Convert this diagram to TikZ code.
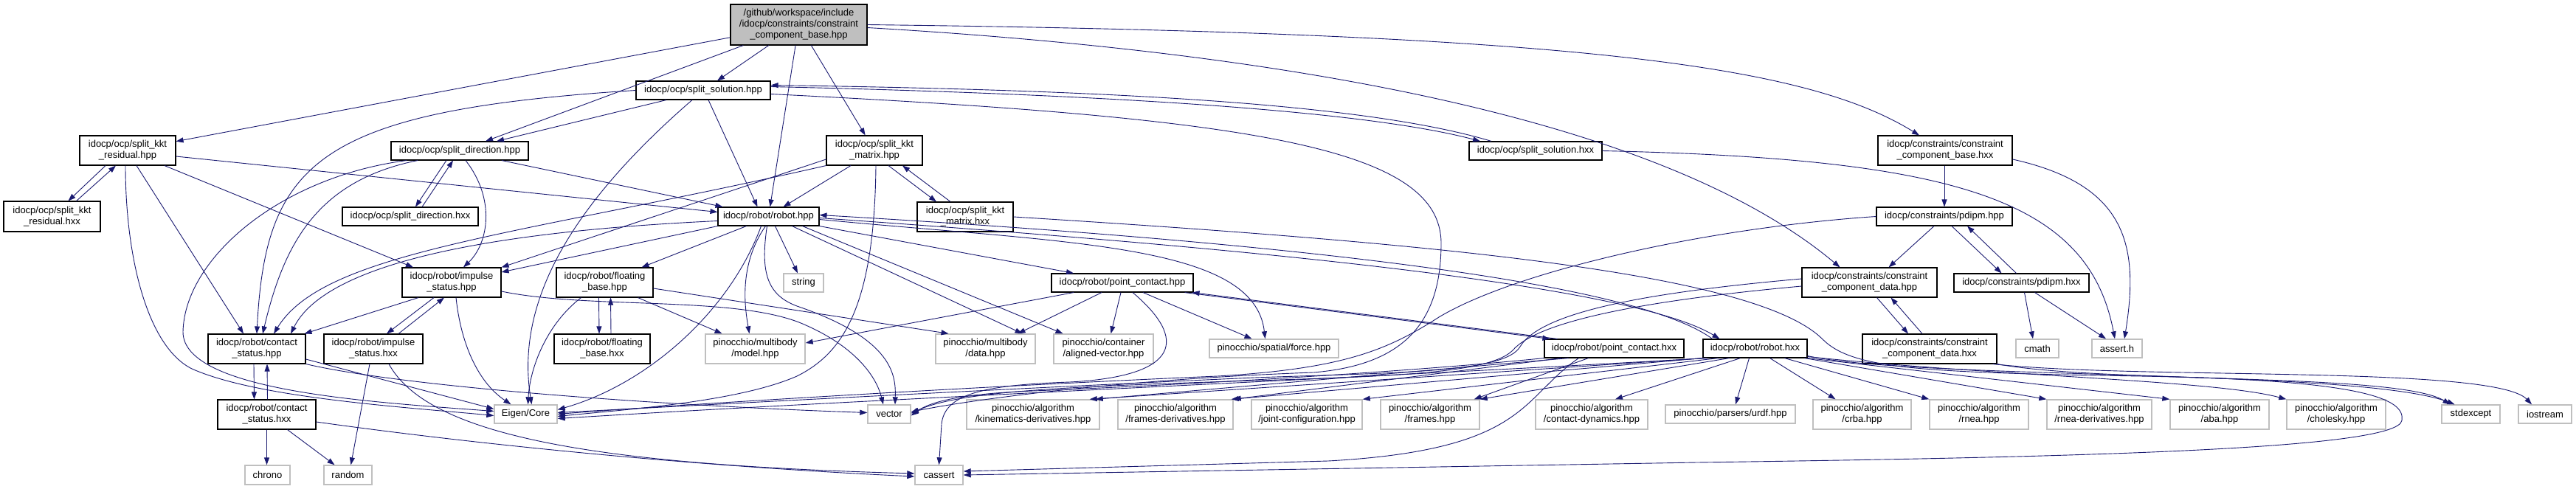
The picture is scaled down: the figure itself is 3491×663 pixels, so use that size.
\documentclass[tikz,border=0pt]{standalone}
\usepackage{fontspec}
\setmainfont{Liberation Sans}
\usepackage{tikz}
\usetikzlibrary{arrows.meta}
\definecolor{edgeblue}{HTML}{191970}
\definecolor{extgray}{HTML}{BFBFBF}
\newcommand{\gfont}{\fontsize{13}{15}\selectfont}

\begin{document}
\begin{tikzpicture}[x=1pt, y=-1pt,
  file/.style={draw=black, line width=1.1pt, fill=white,
    align=center, inner sep=0pt, font=\gfont},
  ext/.style={file, draw=extgray, line width=1.4pt},
  sz/.style 2 args={minimum width=#1pt, minimum height=#2pt},
  dep/.style={-{Triangle[length=10pt,width=7pt]}, draw=edgeblue,
    line width=0.9pt}]

\useasboundingbox (0,0) rectangle (3491,663);

% Top rows — idocp headers
\node[file, sz={185}{55}, fill=extgray] (root) at (1082.5,33.5)
  {/github/workspace/include\\/idocp/constraints/constraint\\\_component\_base.hpp};
\node[file, sz={182}{25}] (sol) at (953,122.5) {idocp/ocp/split\_solution.hpp};
\node[file, sz={130}{40}] (kktres) at (173,204) {idocp/ocp/split\_kkt\\\_residual.hpp};
\node[file, sz={186}{25}] (dir) at (623,204.5) {idocp/ocp/split\_direction.hpp};
\node[file, sz={130}{40}] (kktmat) at (1185,204) {idocp/ocp/split\_kkt\\\_matrix.hpp};
\node[file, sz={180}{25}] (solx) at (2081,204.5) {idocp/ocp/split\_solution.hxx};
\node[file, sz={182}{40}] (basex) at (2636,204) {idocp/constraints/constraint\\\_component\_base.hxx};
\node[file, sz={131}{41}] (kktresx) at (70.5,293.5) {idocp/ocp/split\_kkt\\\_residual.hxx};
\node[file, sz={184}{25}] (dirx) at (556,293.5) {idocp/ocp/split\_direction.hxx};
\node[file, sz={137}{25}] (robot) at (1041.5,293.5) {idocp/robot/robot.hpp};
\node[file, sz={130}{40}] (kktmatx) at (1308,294) {idocp/ocp/split\_kkt\\\_matrix.hxx};
\node[file, sz={184}{25}] (pdipm) at (2635,293.5) {idocp/constraints/pdipm.hpp};

% Middle rows
\node[file, sz={134}{40}] (impulse) at (612,383) {idocp/robot/impulse\\\_status.hpp};
\node[file, sz={131}{40}] (floating) at (819.5,383) {idocp/robot/floating\\\_base.hpp};
\node[ext, sz={54}{25}] (str) at (1089,383.5) {string};
\node[file, sz={192}{25}] (pc) at (1521,383.5) {idocp/robot/point\_contact.hpp};
\node[file, sz={183}{40}] (cdata) at (2533.5,383) {idocp/constraints/constraint\\\_component\_data.hpp};
\node[file, sz={183}{25}] (pdipmx) at (2739.5,383.5) {idocp/constraints/pdipm.hxx};
\node[file, sz={132}{40}] (contact) at (348,473) {idocp/robot/contact\\\_status.hpp};
\node[file, sz={134}{40}] (impulsex) at (506,473) {idocp/robot/impulse\\\_status.hxx};
\node[file, sz={130}{40}] (floatingx) at (816,473) {idocp/robot/floating\\\_base.hxx};
\node[ext, sz={135}{40}] (model) at (1023.5,473) {pinocchio/multibody\\/model.hpp};
\node[ext, sz={135}{40}] (data) at (1335.5,473) {pinocchio/multibody\\/data.hpp};
\node[ext, sz={135}{40}] (aligned) at (1495.5,473) {pinocchio/container\\/aligned-vector.hpp};
\node[ext, sz={175}{25}] (force) at (1726.5,472.5) {pinocchio/spatial/force.hpp};
\node[file, sz={189}{25}] (pcx) at (2187.5,472.5) {idocp/robot/point\_contact.hxx};
\node[file, sz={141}{25}] (robotx) at (2378.5,472.5) {idocp/robot/robot.hxx};
\node[file, sz={182}{40}] (cdatax) at (2615,473) {idocp/constraints/constraint\\\_component\_data.hxx};
\node[ext, sz={58}{25}] (cmath) at (2761,472.5) {cmath};
\node[ext, sz={68}{25}] (asserth) at (2869,472.5) {assert.h};

% Bottom rows
\node[file, sz={133}{40}] (contactx) at (361.5,562) {idocp/robot/contact\\\_status.hxx};
\node[ext, sz={85}{25}] (eigen) at (712.5,561.5) {Eigen/Core};
\node[ext, sz={58}{25}] (vector) at (1205,561.5) {vector};
\node[ext, sz={180}{40}] (kinder) at (1400,562) {pinocchio/algorithm\\/kinematics-derivatives.hpp};
\node[ext, sz={156}{40}] (framesder) at (1593,562) {pinocchio/algorithm\\/frames-derivatives.hpp};
\node[ext, sz={150}{40}] (jointconf) at (1771,562) {pinocchio/algorithm\\/joint-configuration.hpp};
\node[ext, sz={134}{40}] (frames) at (1938,562) {pinocchio/algorithm\\/frames.hpp};
\node[ext, sz={152}{40}] (contactdyn) at (2157,562) {pinocchio/algorithm\\/contact-dynamics.hpp};
\node[ext, sz={176}{25}] (urdf) at (2345,561.5) {pinocchio/parsers/urdf.hpp};
\node[ext, sz={133}{40}] (crba) at (2523.5,562) {pinocchio/algorithm\\/crba.hpp};
\node[ext, sz={134}{40}] (rnea) at (2682,562) {pinocchio/algorithm\\/rnea.hpp};
\node[ext, sz={142}{40}] (rneader) at (2845,562) {pinocchio/algorithm\\/rnea-derivatives.hpp};
\node[ext, sz={134}{40}] (aba) at (3008,562) {pinocchio/algorithm\\/aba.hpp};
\node[ext, sz={134}{40}] (cholesky) at (3166,562) {pinocchio/algorithm\\/cholesky.hpp};
\node[ext, sz={79}{25}] (stdexcept) at (3348.5,561.5) {stdexcept};
\node[ext, sz={72}{25}] (iostream) at (3449,561.5) {iostream};
\node[ext, sz={61}{26}] (chrono) at (362.5,644) {chrono};
\node[ext, sz={65}{26}] (random) at (471.5,644) {random};
\node[ext, sz={65}{26}] (cassert) at (1272.5,644) {cassert};

% Root includes
\draw[dep] (root) -- (kktres);
\draw[dep] (root) -- (dir);
\draw[dep] (root) -- (sol);
\draw[dep] (root) -- (robot);
\draw[dep] (root) -- (kktmat);
\draw[dep] (root.east) .. controls (2150,45) and (2450,90) .. ([xshift=-35pt]basex.north);
\draw[dep] ([yshift=-4pt]root.east) .. controls (1900,80) and (2300,200) .. ([xshift=-40pt]cdata.north);

% split_solution
\draw[dep] ([xshift=-50pt]sol.south) -- ([xshift=50pt]dir.north);
\draw[dep] ([xshift=7pt]sol.south) -- ([xshift=-15pt]robot.north);
\draw[dep] ([xshift=-15pt]sol.south) .. controls (760,290) and (700,420) .. ([xshift=8pt]eigen.north);
\draw[dep] (sol.west) .. controls (430,150) and (360,220) .. (contact.north);
\draw[dep] ([yshift=5pt]sol.east) .. controls (1500,128) and (1850,150) .. ([xshift=-75pt]solx.north);
\draw[dep] ([xshift=-60pt]solx.north) .. controls (1850,140) and (1500,122) .. ([yshift=7pt]sol.east);
\draw[dep] ([yshift=-5pt]sol.east) .. controls (1700,160) and (1953,200) .. (1953,330)
  .. controls (1953,440) and (1900,495) .. (1780,505)
  .. controls (1500,515) and (1300,545) .. ([yshift=3pt]vector.east);
\draw[dep] (solx.east) .. controls (2650,215) and (2830,270) .. ([xshift=-3pt]asserth.north);

% split_direction
\draw[dep] ([xshift=-18pt]dir.south) -- ([xshift=7pt]dirx.north);
\draw[dep] ([xshift=16pt]dirx.north) -- ([xshift=-9pt]dir.south);
\draw[dep] ([xshift=57pt]dir.south) -- ([xshift=-62pt]robot.north);
\draw[dep] ([xshift=8pt]dir.south) .. controls (672,270) and (662,330) .. ([xshift=16pt]impulse.north);
\draw[dep] ([xshift=-57pt]dir.south) .. controls (430,245) and (385,330) .. ([xshift=8pt]contact.north);
\draw[dep] ([xshift=-72pt]dir.south) .. controls (380,240) and (250,350) .. (248,450)
  .. controls (248,530) and (500,545) .. ([yshift=4pt]eigen.west);

% split_kkt_residual
\draw[dep] ([xshift=-30pt]kktres.south) -- ([xshift=22pt]kktresx.north);
\draw[dep] ([xshift=33pt]kktresx.north) -- ([xshift=-16pt]kktres.south);
\draw[dep] ([yshift=-8pt]kktres.east) -- ([yshift=6pt]robot.west);
\draw[dep] ([xshift=50pt]kktres.south) -- ([xshift=-52pt]impulse.north);
\draw[dep] ([xshift=12pt]kktres.south) -- ([xshift=-18pt]contact.north);
\draw[dep] ([xshift=-3pt]kktres.south) .. controls (170,350) and (200,470) .. (260,500)
  .. controls (350,540) and (550,552) .. ([yshift=-2pt]eigen.west);

% split_kkt_matrix
\draw[dep] ([xshift=19pt]kktmat.south) -- ([xshift=-39pt]kktmatx.north);
\draw[dep] ([xshift=-20pt]kktmatx.north) -- ([xshift=38pt]kktmat.south);
\draw[dep] ([xshift=-32pt]kktmat.south) -- ([xshift=20pt]robot.north);
\draw[dep] ([yshift=-12pt]kktmat.west) -- (impulse.north east);
\draw[dep] (kktmat.south west) .. controls (700,320) and (440,340) .. ([xshift=23pt]contact.north);
\draw[dep] ([xshift=2pt]kktmat.south) .. controls (1185,420) and (1140,480) .. (1080,510)
  .. controls (1000,545) and (850,555) .. ([yshift=-3pt]eigen.east);
\draw[dep] (kktmatx.east) .. controls (1950,330) and (2380,370) .. (2470,460)
  .. controls (2510,500) and (2600,505) .. (2900,510)
  .. controls (3200,515) and (3260,540) .. (3255,570)
  .. controls (3250,610) and (2800,620) .. (2300,627) -- (cassert.east);

% robot.hpp
\draw[dep] (robot.south west) -- ([yshift=14pt]impulse.east);
\draw[dep] ([xshift=-30pt]robot.south) -- ([xshift=50pt]floating.north);
\draw[dep] ([xshift=-10pt]robot.south) .. controls (990,420) and (880,520) .. ([yshift=6pt]eigen.east);
\draw[dep] ([xshift=-4pt]robot.south) .. controls (1000,360) and (1010,420) .. ([xshift=-8pt]model.north);
\draw[dep] ([xshift=9pt]robot.south) -- ([xshift=-8pt]str.north);
\draw[dep] ([xshift=-2pt]robot.south) .. controls (1030,370) and (1040,400) .. (1080,415)
  .. controls (1212,460) and (1214,510) .. ([xshift=8pt]vector.north);
\draw[dep] ([xshift=32pt]robot.south) -- ([xshift=50pt]data.north);
\draw[dep] ([xshift=46pt]robot.south) -- ([xshift=-55pt]aligned.north);
\draw[dep] (robot.south east) -- ([xshift=-66pt]pc.north);
\draw[dep] ([yshift=-4pt]robot.east) .. controls (1450,330) and (1700,330) .. ([xshift=-12pt]force.north);
\draw[dep] ([yshift=-6pt]robot.west) .. controls (750,310) and (450,340) .. ([xshift=46pt]contact.north);
\draw[dep] ([yshift=-2pt]robot.east) .. controls (1600,330) and (2200,380) .. ([xshift=-48pt]robotx.north);
\draw[dep] ([xshift=-58pt]robotx.north) .. controls (2200,370) and (1600,320) .. ([yshift=2pt]robot.east);

% impulse_status
\draw[dep] ([xshift=-45pt]impulse.south) -- ([xshift=-2pt]contact.north east);
\draw[dep] ([xshift=-24pt]impulse.south) -- ([xshift=18pt]impulsex.north);
\draw[dep] ([xshift=34pt]impulsex.north) -- ([xshift=-10pt]impulse.south);
\draw[dep] ([xshift=6pt]impulse.south) .. controls (625,470) and (650,520) .. ([xshift=-20pt]eigen.north);
\draw[dep] ([yshift=-12pt]impulse.east) .. controls (800,420) and (1000,400) .. (1090,440)
  .. controls (1170,475) and (1190,520) .. ([xshift=-8pt]vector.north);
\draw[dep] ([xshift=-5pt]impulsex.south) -- ([xshift=4pt]random.north);
\draw[dep] ([xshift=21pt]impulsex.south) .. controls (580,590) and (800,630) .. ([yshift=2pt]cassert.west);

% floating_base
\draw[dep] ([xshift=-32pt]floating.south) .. controls (740,440) and (718,500) .. ([xshift=3pt]eigen.north);
\draw[dep] ([xshift=-8pt]floating.south) -- ([xshift=-4pt]floatingx.north);
\draw[dep] ([xshift=12pt]floatingx.north) -- ([xshift=8pt]floating.south);
\draw[dep] ([xshift=45pt]floating.south) -- ([xshift=-45pt]model.north);
\draw[dep] ([yshift=-8pt]floating.east) -- ([xshift=-50pt]data.north);

% contact_status
\draw[dep] ([xshift=-4pt]contact.south) -- ([xshift=-17pt]contactx.north);
\draw[dep] ([xshift=1pt]contactx.north) -- ([xshift=14pt]contact.south);
\draw[dep] ([yshift=-14pt]contact.east) -- ([yshift=7pt]eigen.west);
\draw[dep] (contact.south east) .. controls (550,525) and (900,550) .. ([yshift=2pt]vector.west);
\draw[dep] (contactx.south) -- ([xshift=-1pt]chrono.north);
\draw[dep] ([xshift=28pt]contactx.south) -- ([xshift=-18pt]random.north);
\draw[dep] ([yshift=-10pt]contactx.east) .. controls (700,610) and (1000,635) .. ([yshift=-2pt]cassert.west);

% point_contact
\draw[dep] ([xshift=-66pt]pc.south) -- ([yshift=8pt]model.east);
\draw[dep] ([xshift=-28pt]pc.south) -- ([xshift=44pt]data.north);
\draw[dep] ([xshift=-2pt]pc.south) -- ([xshift=10pt]aligned.north);
\draw[dep] ([xshift=28pt]pc.south) -- ([xshift=-30pt]force.north);
\draw[dep] ([xshift=14pt]pc.south) .. controls (1610,460) and (1600,510) .. (1450,518)
  .. controls (1330,522) and (1280,535) .. (1276,575) -- (cassert.north);
\draw[dep] ([xshift=-12pt]pc.south east) -- ([xshift=8pt]pcx.north west);
\draw[dep] ([xshift=18pt]pcx.north west) -- ([xshift=-2pt]pc.south east);
\draw[dep] ([xshift=-62pt]pcx.south) -- ([xshift=-6pt]kinder.north east);
\draw[dep] ([xshift=-72pt]pcx.south) -- (framesder.north east);
\draw[dep] ([xshift=-35pt]pcx.south) -- ([xshift=-8pt]frames.north east);
\draw[dep] ([xshift=-48pt]pcx.south) .. controls (2060,540) and (2070,610) .. (1800,625)
  -- ([yshift=5pt]cassert.east);
\draw[dep] (pcx.south west) .. controls (1900,505) and (1600,522) .. (1400,530)
  .. controls (1300,534) and (1260,545) .. ([yshift=-2pt]vector.east);

% robot.hxx
\draw[dep] ([xshift=-8pt]robotx.south) -- ([xshift=7pt]urdf.north);
\draw[dep] ([xshift=20pt]robotx.south) -- ([xshift=-36pt]crba.north);
\draw[dep] ([xshift=40pt]robotx.south) -- (rnea.north west);
\draw[dep] ([xshift=-4pt]robotx.south east) -- (rneader.north west);
\draw[dep] (robotx.south east) -- (aba.north west);
\draw[dep] ([yshift=2pt]robotx.south east) .. controls (2700,510) and (3000,515) .. (cholesky.north west);
\draw[dep] ([xshift=-20pt]robotx.south) -- ([xshift=32pt]contactdyn.north);
\draw[dep] ([xshift=-35pt]robotx.south) -- (frames.north east);
\draw[dep] ([xshift=-50pt]robotx.south) -- (jointconf.north east);
\draw[dep] (robotx.south west) -- ([xshift=-3pt]framesder.north east);
\draw[dep] ([xshift=3pt]robotx.south west) -- ([xshift=-14pt]kinder.north east);
\draw[dep] ([xshift=6pt]robotx.south west) .. controls (1800,515) and (1200,540) .. ([yshift=-6pt]eigen.east);
\draw[dep] ([yshift=3pt]robotx.south east) .. controls (2600,515) and (3200,500) .. ([xshift=-22pt]stdexcept.north);

% constraint_component_data
\draw[dep] ([xshift=10pt]cdata.south) -- ([xshift=-29pt]cdatax.north);
\draw[dep] ([xshift=-10pt]cdatax.north) -- ([xshift=29pt]cdata.south);
\draw[dep] ([yshift=5pt]cdata.west) .. controls (2250,395) and (2090,420) .. (2060,470)
  .. controls (2040,505) and (1900,505) .. (1700,512)
  .. controls (1300,530) and (900,552) .. ([yshift=2pt]eigen.east);
\draw[dep] ([yshift=-5pt]cdata.west) .. controls (2200,410) and (2080,440) .. (2050,475)
  .. controls (2020,505) and (1900,510) .. (1700,516)
  .. controls (1450,524) and (1300,530) .. ([yshift=1pt]vector.east);
\draw[dep] (cdatax.south east) .. controls (2850,520) and (3250,505) .. ([xshift=-28pt]stdexcept.north);
\draw[dep] ([xshift=-6pt]cdatax.south east) .. controls (2900,515) and (3380,495) .. ([xshift=-18pt]iostream.north);

% constraint_component_base.hxx and pdipm
\draw[dep] ([xshift=-1pt]basex.south) -- (pdipm.north);
\draw[dep] ([yshift=-12pt]basex.east) .. controls (2880,250) and (2900,330) .. ([xshift=10pt]asserth.north);
\draw[dep] ([xshift=-14pt]pdipm.south) -- ([xshift=26pt]cdata.north);
\draw[dep] ([xshift=10pt]pdipm.south) -- ([xshift=-27pt]pdipmx.north);
\draw[dep] ([xshift=-7pt]pdipmx.north) -- ([xshift=31pt]pdipm.south);
\draw[dep] (pdipm.west) .. controls (2300,310) and (2050,370) .. (1950,430)
  .. controls (1880,475) and (1820,500) .. (1650,510)
  .. controls (1300,525) and (900,550) .. (eigen.east);
\draw[dep] ([xshift=4pt]pdipmx.south) -- ([xshift=-6pt]cmath.north);
\draw[dep] ([xshift=18pt]pdipmx.south) -- ([xshift=-15pt]asserth.north);

\end{tikzpicture}
\end{document}
